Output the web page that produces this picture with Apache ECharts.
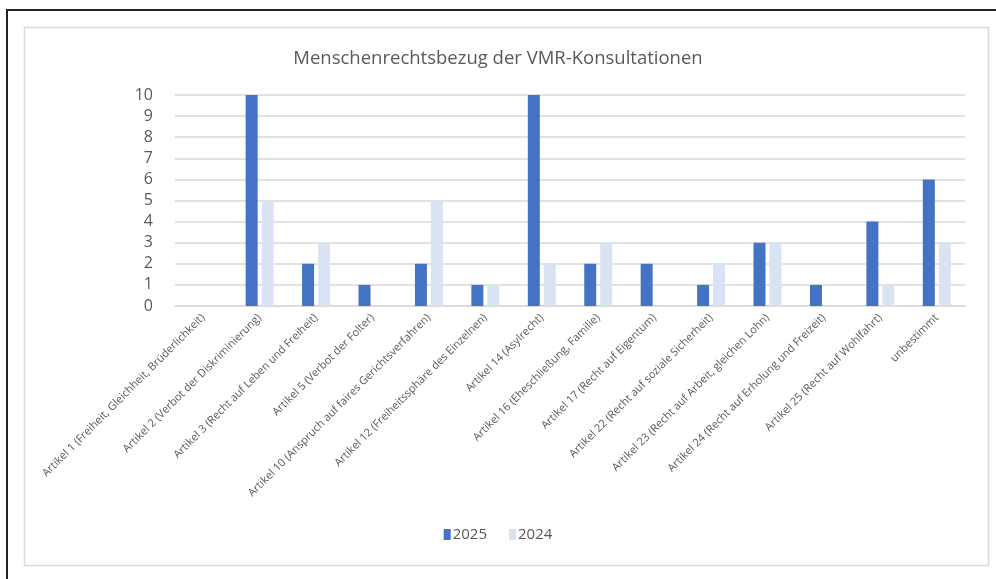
<!DOCTYPE html>
<html>
<head>
<meta charset="utf-8">
<script src="https://cdn.jsdelivr.net/npm/echarts@6/dist/echarts.min.js"></script>
<style>
  html, body { margin: 0; padding: 0; background: #fff; }
  #main { width: 996px; height: 579px; }
</style>
</head>
<body>
<div id="main"></div>
<script>
const categories = [
  'Artikel 1 (Freiheit, Gleichheit, Brüderlichkeit)',
  'Artikel 2 (Verbot der Diskriminierung)',
  'Artikel 3 (Recht auf Leben und Freiheit)',
  'Artikel 5 (Verbot der Folter)',
  'Artikel 10 (Anspruch auf faires Gerichtsverfahren)',
  'Artikel 12 (Freiheitssphäre des Einzelnen)',
  'Artikel 14 (Asylrecht)',
  'Artikel 16 (Eheschließung, Familie)',
  'Artikel 17 (Recht auf Eigentum)',
  'Artikel 22 (Recht auf soziale Sicherheit)',
  'Artikel 23 (Recht auf Arbeit, gleichen Lohn)',
  'Artikel 24 (Recht auf Erholung und Freizeit)',
  'Artikel 25 (Recht auf Wohlfahrt)',
  'unbestimmt'
];
const values2025 = [0, 10, 2, 1, 2, 1, 10, 2, 2, 1, 3, 1, 4, 6];
const values2024 = [0, 5, 3, 0, 5, 1, 2, 3, 0, 2, 3, 0, 1, 3];

const chart = echarts.init(document.getElementById('main'));
const font = 'Open Sans';

chart.setOption({
  animation: false,
  backgroundColor: '#fff',
  title: {
    text: 'Menschenrechtsbezug der VMR-Konsultationen',
    left: 'center',
    top: 44,
    textStyle: { fontFamily: font, fontSize: 18.5, fontWeight: 'normal', color: '#595959' }
  },
  legend: {
    data: ['2025', '2024'],
    bottom: 32,
    left: 'center',
    icon: 'rect',
    itemWidth: 7,
    itemHeight: 11,
    itemGap: 22,
    textStyle: { fontFamily: font, fontSize: 15, color: '#595959', padding: [0, 0, 0, -3] }
  },
  graphic: [
    { type: 'rect', shape: { x: 7, y: 10, width: 1000, height: 600 }, style: { fill: 'none', stroke: '#222', lineWidth: 2 } },
    { type: 'rect', shape: { x: 24.5, y: 27.5, width: 964, height: 538 }, style: { fill: 'none', stroke: '#d9d9d9', lineWidth: 1.5 } }
  ],
  grid: { left: 175, right: 31, top: 95, bottom: 273 },
  xAxis: {
    type: 'category',
    data: categories,
    axisLine: { lineStyle: { color: '#d9d9d9', width: 1.5 } },
    axisTick: { show: false },
    axisLabel: { rotate: 45, interval: 0, margin: 10, fontFamily: font, fontSize: 11, color: '#595959' }
  },
  yAxis: {
    type: 'value',
    min: 0,
    max: 10,
    interval: 1,
    axisLine: { show: false },
    axisTick: { show: false },
    splitLine: { lineStyle: { color: '#d9d9d9', width: 1.5 } },
    axisLabel: { margin: 22, fontFamily: font, fontSize: 16, color: '#595959' }
  },
  series: [
    { name: '2025', type: 'bar', data: values2025, barWidth: 12, barGap: '33%', itemStyle: { color: '#4472c4' } },
    { name: '2024', type: 'bar', data: values2024, barWidth: 12, itemStyle: { color: '#dae3f3' } }
  ]
});
</script>
</body>
</html>
